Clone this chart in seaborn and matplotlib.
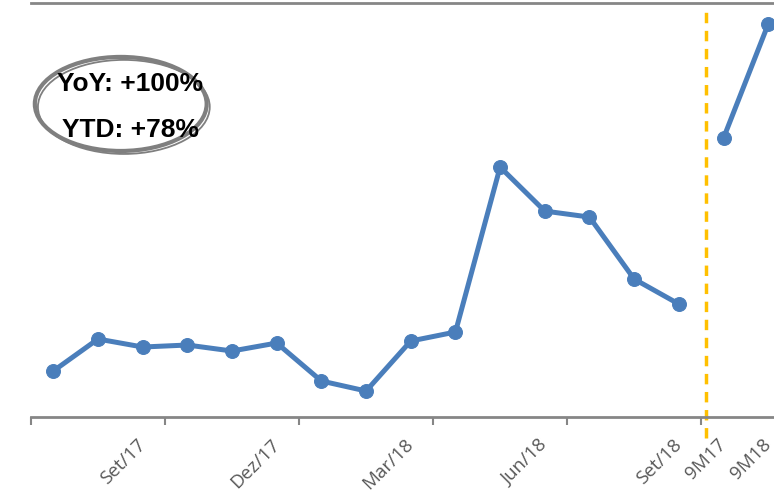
import matplotlib
matplotlib.use("Agg")
import matplotlib.pyplot as plt
from matplotlib.patches import Ellipse
import seaborn as sns
import numpy as np

# ── Data ─────────────────────────────────────────────
months = ["Jul/17", "Ago/17", "Set/17", "Out/17", "Nov/17", "Dez/17",
          "Jan/18", "Fev/18", "Mar/18", "Abr/18", "Mai/18", "Jun/18",
          "Jul/18", "Ago/18", "Set/18"]
monthly = [46, 78, 70, 72, 66, 74, 36, 26, 76, 85, 250, 206, 200, 138, 113]
periods = ["9M17", "9M18"]
period_vals = [279, 393]
shown_labels = ["Set/17", "Dez/17", "Mar/18", "Jun/18", "Set/18", "9M17", "9M18"]
notes = ["YoY: +100%", "YTD: +78%"]

cats = months + periods
x_month = np.arange(len(months))
x_period = np.arange(len(months), len(cats))

sns.set_style("white")
plt.rcParams["font.family"] = ["Open Sans", "DejaVu Sans"]

fig = plt.figure(figsize=(7.74, 4.95), dpi=100)
ax = fig.add_axes([0.040, 0.1576, 0.960, 0.836])

blue = "#4a7ebb"
for xs, ys in [(x_month, monthly), (x_period, period_vals)]:
    sns.lineplot(x=xs, y=ys, ax=ax, color=blue, linewidth=3.6, marker="o",
                 markersize=10, markeredgecolor=blue, clip_on=False)

# divider between monthly and period values
ax.axvline(len(months) - 0.4, color="#ffc000", linewidth=2.5,
           linestyle=(0, (3, 2.2)), ymin=-0.05, ymax=0.985, clip_on=False)

ax.set_xlim(-0.5, 16.13)
ax.set_ylim(0, 414)
ax.set_yticks([])

for s in ["left", "right"]:
    ax.spines[s].set_visible(False)
for s in ["top", "bottom"]:
    ax.spines[s].set_color("#868686")
    ax.spines[s].set_linewidth(2)

# labels on selected categories, tick marks on boundaries
ax.set_xticks([cats.index(l) for l in shown_labels])
ax.set_xticklabels(shown_labels, rotation=45, ha="right", va="center",
                   rotation_mode="anchor", color="#595959", fontsize=13.5)
ax.tick_params(axis="x", which="major", length=0, pad=18)
ax.set_xticks(np.arange(-0.5, len(months), 3), minor=True)
ax.tick_params(axis="x", which="minor", bottom=True, length=6, width=1.5,
               color="#868686", direction="out")

# annotation bubble
for dx, dy, lw in [(0, 0, 3.0), (0.004, -0.006, 1.3)]:
    fig.patches.append(Ellipse((0.156 + dx, 0.79 + dy), 0.222, 0.19,
                               transform=fig.transFigure, fill=False,
                               edgecolor="#7f7f7f", linewidth=lw))
fig.text(0.168, 0.83, notes[0], ha="center", va="center", fontsize=19,
         fontweight="bold", color="black",
         family=["Liberation Sans", "DejaVu Sans"])
fig.text(0.168, 0.738, notes[1], ha="center", va="center", fontsize=19,
         fontweight="bold", color="black",
         family=["Liberation Sans", "DejaVu Sans"])

plt.savefig("out.png", dpi=100)
